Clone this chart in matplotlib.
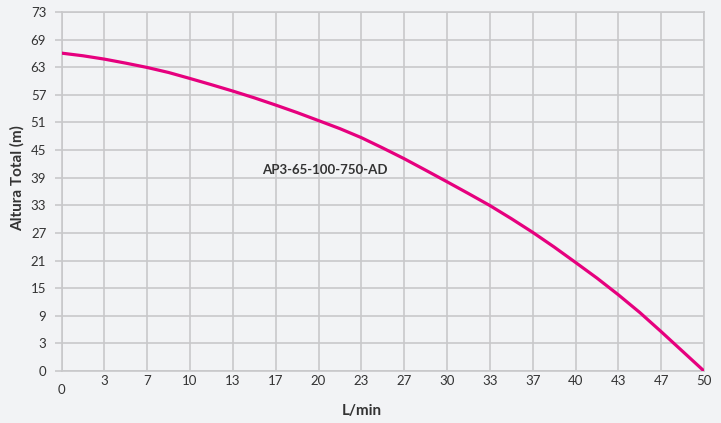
import numpy as np
import matplotlib
matplotlib.use("Agg")
import matplotlib.pyplot as plt

# Data
flow_positions = np.linspace(0, 50, 16)
flow_labels = ["0", "3", "7", "10", "13", "17", "20", "23", "27", "30", "33", "37", "40", "43", "47", "50"]
curve_flow = np.linspace(0, 50, 31)
head_values = [64.64, 64.10, 63.42, 62.60, 61.72, 60.70, 59.48, 58.22, 56.92, 55.55, 54.08,
               52.55, 50.92, 49.28, 47.45, 45.35, 43.17, 40.84, 38.48, 36.09, 33.65,
               30.99, 28.20, 25.22, 22.08, 18.90, 15.50, 11.90, 8.00, 4.00, 0.0]
y_tick_positions = np.linspace(0, 73, 14)
y_tick_labels = ["0", "3", "9", "15", "21", "27", "33", "39", "45", "51", "57", "63", "69", "73"]
series_name = "AP3-65-100-750-AD"

bg = "#f2f3f5"
grid_c = "#c8c8ca"
text_c = "#333333"
curve_c = "#e6007e"

plt.rcParams['font.family'] = ['Lato', 'DejaVu Sans']

fig = plt.figure(figsize=(7.21, 4.23), dpi=100, facecolor=bg)
ax = fig.add_axes([61.5/721, 1-371/423, (704-61.5)/721, (371-12)/423])
ax.set_facecolor(bg)

ax.plot(curve_flow, head_values, color=curve_c, lw=2.3,
        solid_capstyle='round', solid_joinstyle='round', zorder=3)

ax.set_xlim(0, 50)
ax.set_ylim(0, 73)
ax.set_xticks(flow_positions)
ax.set_xticklabels(flow_labels)
ax.set_yticks(y_tick_positions)
ax.set_yticklabels(y_tick_labels)
ax.grid(True, color=grid_c, lw=1.2, zorder=0)
ax.set_axisbelow(True)
for s in ax.spines.values():
    s.set_color(grid_c)
    s.set_linewidth(1.2)

ax.tick_params(axis='y', length=5, width=1.2, color=grid_c, pad=6, labelsize=9.5, labelcolor=text_c)
ax.tick_params(axis='x', length=0, pad=3, labelsize=9.5, labelcolor=text_c)
ax.xaxis.get_major_ticks()[0].set_pad(9)

ax.set_xlabel("L/min", fontsize=11, fontweight='bold', color=text_c)
ax.set_ylabel("Altura Total (m)", fontsize=11, fontweight='bold', color=text_c)
ax.xaxis.set_label_coords(0.468, -0.092)
ax.yaxis.set_label_coords(-0.057, 0.537)

ax.text(15.6, 40.8, series_name, fontsize=9.5, fontweight='bold', color=text_c, va='center', ha='left')

fig.savefig("out.png", dpi=100, facecolor=bg)
